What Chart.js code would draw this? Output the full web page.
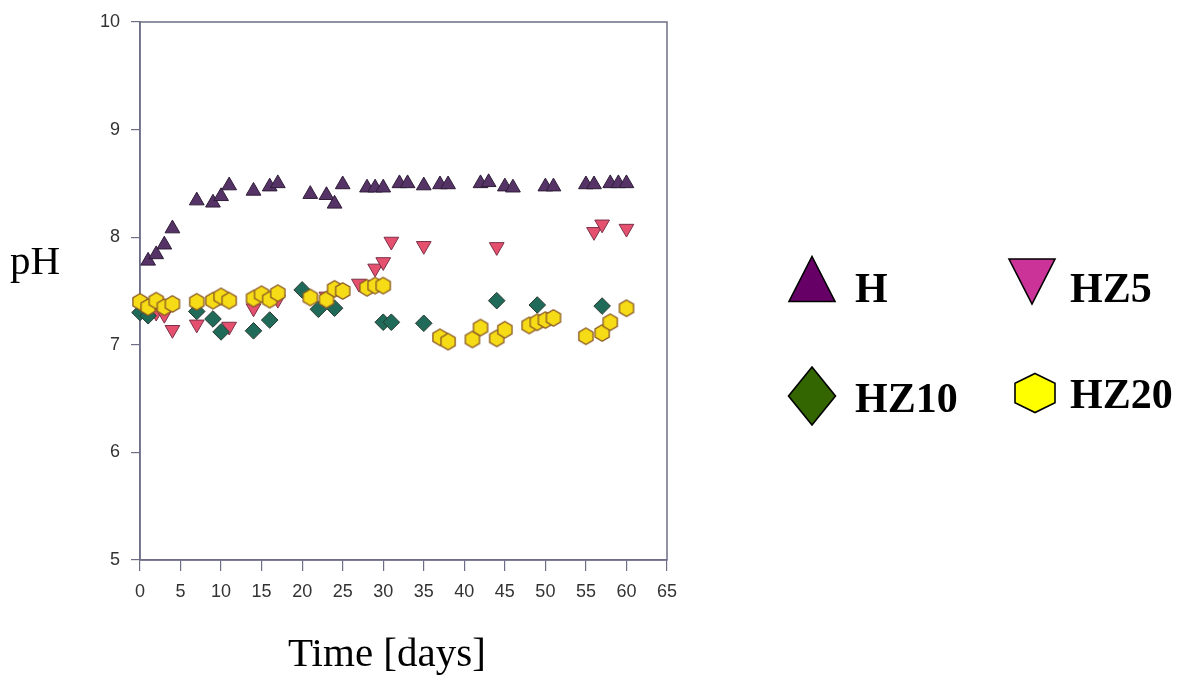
<!DOCTYPE html>
<html>
<head>
<meta charset="utf-8">
<script src="https://cdn.jsdelivr.net/npm/chart.js@4.4.0/dist/chart.umd.min.js"></script>
<style>
  html, body { margin: 0; padding: 0; background: #fff; }
  #wrap { position: relative; width: 1178px; height: 678px; overflow: hidden; }
  #chart { position: absolute; left: 0; top: 0; }
  .title { position: absolute; font-family: "Liberation Serif", "Times New Roman", serif; color: #000; white-space: nowrap; }
  #ytitle { left: 10px; top: 236px; font-size: 41px; }
  #xtitle { left: 288px; top: 628px; font-size: 41px; }
</style>
</head>
<body>
<div id="wrap">
  <canvas id="chart" width="1178" height="678"></canvas>
  <div id="ytitle" class="title">pH</div>
  <div id="xtitle" class="title">Time [days]</div>
</div>
<script>
// series names
const seriesNames = ['H', 'HZ5', 'HZ10', 'HZ20'];

// axis ticks
const xTicks = [0, 5, 10, 15, 20, 25, 30, 35, 40, 45, 50, 55, 60, 65];
const yTicks = [5, 6, 7, 8, 9, 10];

// H
const hDays = [1, 2, 3, 4, 7, 9, 10, 11, 14, 16, 17, 21, 23, 24, 25, 28, 29, 30, 32, 33, 35, 37, 38, 42, 43, 45, 46, 50, 51, 55, 56, 58, 59, 60];
const hPH = [7.78, 7.84, 7.93, 8.08, 8.34, 8.32, 8.38, 8.48, 8.43, 8.47, 8.50, 8.40, 8.39, 8.31, 8.49, 8.46, 8.46, 8.46, 8.50, 8.50, 8.48, 8.49, 8.49, 8.50, 8.51, 8.47, 8.46, 8.47, 8.47, 8.49, 8.49, 8.50, 8.50, 8.50];

// HZ5
const hz5Days = [2, 3, 4, 7, 11, 14, 17, 23, 27, 29, 30, 31, 35, 44, 56, 57, 60];
const hz5PH = [7.30, 7.28, 7.14, 7.19, 7.17, 7.34, 7.42, 7.45, 7.57, 7.71, 7.77, 7.96, 7.92, 7.91, 8.05, 8.12, 8.08];

// HZ10
const hz10Days = [0, 1, 7, 9, 10, 14, 16, 20, 22, 24, 30, 31, 35, 44, 49, 57];
const hz10PH = [7.30, 7.27, 7.31, 7.24, 7.12, 7.13, 7.23, 7.51, 7.33, 7.34, 7.21, 7.21, 7.20, 7.41, 7.37, 7.36];

// HZ20
const hz20Days = [0, 1, 2, 3, 4, 7, 9, 10, 11, 14, 15, 16, 17, 21, 23, 24, 25, 28, 29, 30, 37, 38, 41, 42, 44, 45, 48, 49, 50, 51, 55, 57, 58, 60];
const hz20PH = [7.40, 7.35, 7.41, 7.35, 7.38, 7.40, 7.41, 7.45, 7.41, 7.43, 7.47, 7.42, 7.48, 7.44, 7.42, 7.52, 7.50, 7.53, 7.55, 7.55, 7.07, 7.03, 7.05, 7.16, 7.06, 7.14, 7.18, 7.21, 7.23, 7.25, 7.08, 7.11, 7.21, 7.34];

function toPoints(days, values) {
    return days.map(function(d, i) { return { x: d, y: values[i] }; });
}

// hexagon marker (Chart.js has no built-in one)
function hexagonImage(r, fill, stroke) {
    const c = document.createElement('canvas');
    const s = Math.ceil(r * 2 + 3);
    c.width = s;
    c.height = s;
    const g = c.getContext('2d');
    g.beginPath();
    for (let k = 0; k < 6; k++) {
        const a = Math.PI / 3 * k - Math.PI / 2;
        const px = s / 2 + r * Math.cos(a);
        const py = s / 2 + r * Math.sin(a);
        if (k === 0) g.moveTo(px, py); else g.lineTo(px, py);
    }
    g.closePath();
    g.fillStyle = fill;
    g.fill();
    g.lineWidth = 1.3;
    g.strokeStyle = stroke;
    g.stroke();
    return c;
}

// frame round the plot area (top and right sides too)
const framePlugin = {
    id: 'frame',
    beforeDatasetsDraw: function(chart) {
        const a = chart.chartArea;
        const ctx = chart.ctx;
        ctx.save();
        ctx.strokeStyle = '#6e6e86';
        ctx.lineWidth = 1.5;
        ctx.strokeRect(a.left, a.top, a.right - a.left, a.bottom - a.top);
        ctx.restore();
    }
};

// legend drawn in a 2x2 block to the right
const shapeLegendPlugin = {
    id: 'shapeLegend',
    afterDraw: function(chart, args, opts) {
        const ctx = chart.ctx;
        ctx.save();
        opts.items.forEach(function(it) {
            ctx.beginPath();
            const cx = it.cx, cy = it.cy, w = it.w, h = it.h;
            if (it.shape === 'up') {
                ctx.moveTo(cx, cy - h);
                ctx.lineTo(cx + w, cy + h);
                ctx.lineTo(cx - w, cy + h);
            } else if (it.shape === 'down') {
                ctx.moveTo(cx - w, cy - h);
                ctx.lineTo(cx + w, cy - h);
                ctx.lineTo(cx, cy + h);
            } else if (it.shape === 'diamond') {
                ctx.moveTo(cx, cy - h);
                ctx.lineTo(cx + w, cy);
                ctx.lineTo(cx, cy + h);
                ctx.lineTo(cx - w, cy);
            } else {
                ctx.moveTo(cx, cy - h);
                ctx.lineTo(cx + w, cy - h / 2);
                ctx.lineTo(cx + w, cy + h / 2);
                ctx.lineTo(cx, cy + h);
                ctx.lineTo(cx - w, cy + h / 2);
                ctx.lineTo(cx - w, cy - h / 2);
            }
            ctx.closePath();
            ctx.fillStyle = it.fill;
            ctx.fill();
            ctx.lineWidth = 1.6;
            ctx.strokeStyle = '#000';
            ctx.stroke();

            ctx.fillStyle = '#000';
            ctx.font = 'bold 42px "Liberation Serif", "Times New Roman", serif';
            ctx.textAlign = 'left';
            ctx.textBaseline = 'alphabetic';
            ctx.fillText(it.label, it.tx, it.ty);
        });
        ctx.restore();
    }
};

const ctx = document.getElementById('chart').getContext('2d');
new Chart(ctx, {
    type: 'scatter',
    data: {
        datasets: [{
            label: seriesNames[0],
            data: toPoints(hDays, hPH),
            pointStyle: 'triangle',
            pointRadius: 8.5,
            backgroundColor: '#563366',
            borderColor: '#2e1c38',
            borderWidth: 1,
            order: 4,
            clip: false
        }, {
            label: seriesNames[1],
            data: toPoints(hz5Days, hz5PH),
            pointStyle: 'triangle',
            rotation: 180,
            pointRadius: 8.5,
            backgroundColor: '#e4506e',
            borderColor: '#7a3048',
            borderWidth: 1,
            order: 3,
            clip: false
        }, {
            label: seriesNames[2],
            data: toPoints(hz10Days, hz10PH),
            pointStyle: 'rectRot',
            pointRadius: 8.3,
            backgroundColor: '#1f6a58',
            borderColor: '#2a3a30',
            borderWidth: 1,
            order: 2,
            clip: false
        }, {
            label: seriesNames[3],
            data: toPoints(hz20Days, hz20PH),
            pointStyle: hexagonImage(8.2, '#f6dc16', '#8a5a24'),
            pointRadius: 8.5,
            backgroundColor: '#f6dc16',
            borderColor: '#8a5a24',
            order: 1,
            clip: false
        }]
    },
    options: {
        responsive: false,
        animation: false,
        devicePixelRatio: 1,
        layout: {
            padding: { left: 0, top: 22, right: 511, bottom: 68 }
        },
        plugins: {
            legend: { display: false },
            tooltip: { enabled: false },
            shapeLegend: {
                items: [
                    { label: seriesNames[0], shape: 'up', fill: '#660066', cx: 812, cy: 279, w: 23, h: 22.5, tx: 855, ty: 302 },
                    { label: seriesNames[1], shape: 'down', fill: '#cc3399', cx: 1032, cy: 281.5, w: 23, h: 22.5, tx: 1070, ty: 302 },
                    { label: seriesNames[2], shape: 'diamond', fill: '#336600', cx: 812, cy: 396, w: 23.5, h: 29, tx: 855, ty: 412 },
                    { label: seriesNames[3], shape: 'hex', fill: '#ffff00', cx: 1035, cy: 393, w: 20, h: 19.5, tx: 1070, ty: 408 }
                ]
            }
        },
        scales: {
            x: {
                type: 'linear',
                min: 0,
                max: 65,
                afterFit: function(scale) { scale.height = 50; },
                afterBuildTicks: function(scale) {
                    scale.ticks = xTicks.map(function(v) { return { value: v }; });
                },
                border: { display: true, color: '#6e6e86', width: 1.5 },
                grid: { drawOnChartArea: false, drawTicks: true, tickLength: 11, color: '#6e6e86', lineWidth: 1.2 },
                ticks: {
                    padding: 10,
                    color: '#333',
                    font: { family: '"Liberation Sans", Arial, sans-serif', size: 18 },
                    maxRotation: 0
                }
            },
            y: {
                type: 'linear',
                min: 5,
                max: 10,
                afterFit: function(scale) { scale.width = 140; },
                afterBuildTicks: function(scale) {
                    scale.ticks = yTicks.map(function(v) { return { value: v }; });
                },
                border: { display: true, color: '#6e6e86', width: 1.5 },
                grid: { drawOnChartArea: false, drawTicks: true, tickLength: 9, color: '#6e6e86', lineWidth: 1.2 },
                ticks: {
                    padding: 11,
                    color: '#333',
                    font: { family: '"Liberation Sans", Arial, sans-serif', size: 18 }
                }
            }
        }
    },
    plugins: [framePlugin, shapeLegendPlugin]
});
</script>
</body>
</html>
